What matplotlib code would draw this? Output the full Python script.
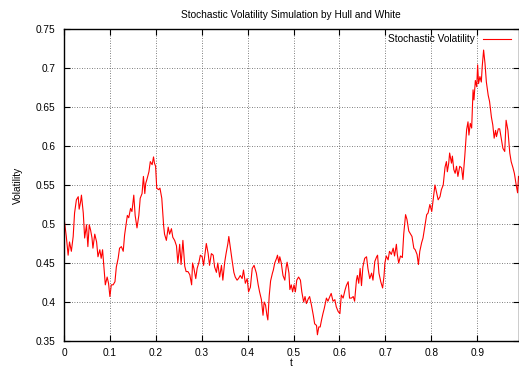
import numpy as np
import matplotlib.pyplot as plt

# values (t, volatility)
t = [0.000, 0.005, 0.009, 0.012, 0.016, 0.020, 0.023, 0.027, 0.031, 0.033,
     0.036, 0.038, 0.042, 0.045, 0.049, 0.052, 0.055, 0.058, 0.061, 0.063,
     0.067, 0.071, 0.074, 0.078, 0.081, 0.084, 0.087, 0.090, 0.094, 0.097,
     0.100, 0.103, 0.107, 0.111, 0.114, 0.118, 0.121, 0.125, 0.129,
     0.132, 0.138, 0.141, 0.145, 0.148, 0.152, 0.155, 0.159, 0.163, 0.166,
     0.170, 0.173, 0.176, 0.178, 0.181, 0.185, 0.188, 0.192, 0.195, 0.197,
     0.1995, 0.202, 0.206, 0.209, 0.213, 0.217, 0.219, 0.223, 0.227, 0.230,
     0.234, 0.237, 0.241, 0.245, 0.248, 0.252, 0.255, 0.259, 0.263, 0.266,
     0.270,
     0.274, 0.278, 0.280, 0.283, 0.287, 0.290, 0.294, 0.297, 0.301, 0.304,
     0.306, 0.310, 0.314, 0.317, 0.321, 0.325, 0.328, 0.332, 0.335, 0.339,
     0.343, 0.346, 0.350, 0.353, 0.357, 0.359, 0.362, 0.366, 0.370, 0.373,
     0.377, 0.380, 0.384, 0.388, 0.391, 0.395, 0.399, 0.402, 0.406, 0.410,
     0.414,
     0.419, 0.423, 0.426, 0.430, 0.4335, 0.436, 0.439, 0.442, 0.444, 0.447,
     0.450, 0.454, 0.456, 0.459, 0.463, 0.465, 0.468, 0.470, 0.473, 0.477,
     0.481, 0.484, 0.486, 0.490, 0.492, 0.495, 0.498, 0.501, 0.504, 0.507,
     0.511, 0.515, 0.518, 0.522, 0.525, 0.528, 0.532, 0.535, 0.539, 0.543,
     0.546, 0.550, 0.552, 0.555, 0.558, 0.561, 0.564, 0.567,
     0.5716, 0.575, 0.579, 0.582, 0.586, 0.590, 0.593, 0.597, 0.601, 0.604,
     0.608, 0.612, 0.615, 0.619, 0.622, 0.626, 0.630, 0.633, 0.637, 0.639,
     0.642, 0.645, 0.648, 0.651, 0.655, 0.659, 0.662, 0.666, 0.670, 0.673,
     0.677, 0.681, 0.683, 0.686, 0.690, 0.694, 0.697,
     0.699, 0.702, 0.706, 0.709, 0.713, 0.717, 0.720, 0.724, 0.726, 0.729,
     0.733, 0.737, 0.740, 0.742, 0.744, 0.747, 0.751, 0.755, 0.758, 0.762,
     0.765, 0.769, 0.772, 0.775, 0.779, 0.782, 0.786, 0.790, 0.793, 0.797,
     0.801, 0.804, 0.808, 0.812, 0.815, 0.819, 0.822, 0.826, 0.830, 0.833,
     0.835, 0.838,
     0.840, 0.844, 0.846, 0.849, 0.852, 0.855, 0.858, 0.862, 0.866, 0.869,
     0.873, 0.877, 0.880, 0.882, 0.885, 0.888, 0.891, 0.893, 0.896, 0.899,
     0.901, 0.903, 0.906, 0.909, 0.911, 0.914, 0.917, 0.920, 0.924, 0.927,
     0.931, 0.934, 0.937, 0.940, 0.942, 0.946, 0.949, 0.953, 0.956, 0.960,
     0.963, 0.967, 0.971, 0.974, 0.978, 0.981, 0.985, 0.988, 0.990]

vol = [0.508, 0.484, 0.460, 0.477, 0.465, 0.484, 0.514, 0.531, 0.535, 0.519,
       0.528, 0.537, 0.514, 0.482, 0.499, 0.471, 0.499, 0.492, 0.482, 0.469,
       0.487, 0.477, 0.458, 0.467, 0.456, 0.467, 0.445, 0.422, 0.432, 0.424,
       0.407, 0.422, 0.422, 0.426, 0.445, 0.456, 0.469, 0.471, 0.465,
       0.486, 0.511, 0.508, 0.520, 0.516, 0.537, 0.511, 0.495, 0.511, 0.533,
       0.539, 0.561, 0.539, 0.552, 0.558, 0.567, 0.580, 0.576, 0.586, 0.578,
       0.574, 0.546, 0.544, 0.546, 0.533, 0.498, 0.487, 0.479, 0.496, 0.487,
       0.494, 0.483, 0.479, 0.472, 0.450, 0.474, 0.448, 0.479, 0.446, 0.439,
       0.439,
       0.435, 0.422, 0.450, 0.443, 0.430, 0.443, 0.451, 0.460, 0.458, 0.447,
       0.456, 0.475, 0.462, 0.447, 0.462, 0.460, 0.445, 0.438, 0.450, 0.432,
       0.447, 0.428, 0.451, 0.462, 0.475, 0.484, 0.471, 0.454, 0.438, 0.432,
       0.428, 0.430, 0.434, 0.430, 0.441, 0.424, 0.430, 0.413, 0.419, 0.443,
       0.447,
       0.437, 0.422, 0.413, 0.403, 0.383, 0.400, 0.396, 0.383, 0.377, 0.408,
       0.427, 0.437, 0.441, 0.450, 0.456, 0.460, 0.450, 0.458, 0.451, 0.434,
       0.428, 0.445, 0.451, 0.437, 0.416, 0.422, 0.413, 0.422, 0.413, 0.428,
       0.432, 0.428, 0.413, 0.400, 0.407, 0.398, 0.404, 0.407, 0.396, 0.383,
       0.372, 0.370, 0.358, 0.368, 0.368, 0.377, 0.385, 0.392,
       0.405, 0.401, 0.407, 0.411, 0.401, 0.403, 0.394, 0.388, 0.385, 0.409,
       0.405, 0.415, 0.421, 0.426, 0.405, 0.405, 0.407, 0.401, 0.428, 0.434,
       0.424, 0.443, 0.421, 0.445, 0.456, 0.458, 0.443, 0.430, 0.437, 0.428,
       0.452, 0.458, 0.460, 0.437, 0.426, 0.418, 0.433,
       0.450, 0.459, 0.454, 0.465, 0.461, 0.469, 0.459, 0.474, 0.461, 0.450,
       0.459, 0.457, 0.487, 0.500, 0.512, 0.506, 0.491, 0.487, 0.484, 0.469,
       0.467, 0.461, 0.448, 0.465, 0.476, 0.482, 0.497, 0.512, 0.514, 0.525,
       0.516, 0.531, 0.550, 0.539, 0.531, 0.535, 0.544, 0.550, 0.573, 0.580,
       0.567, 0.578,
       0.591, 0.578, 0.587, 0.570, 0.565, 0.574, 0.561, 0.574, 0.572, 0.557,
       0.587, 0.621, 0.631, 0.614, 0.629, 0.623, 0.672, 0.659, 0.684, 0.676,
       0.704, 0.680, 0.689, 0.682, 0.702, 0.723, 0.706, 0.682, 0.665, 0.657,
       0.637, 0.627, 0.610, 0.620, 0.612, 0.622, 0.622, 0.608, 0.597, 0.593,
       0.633, 0.620, 0.591, 0.580, 0.572, 0.565, 0.550, 0.540, 0.561]

xticks = [0, 0.1, 0.2, 0.3, 0.4, 0.5, 0.6, 0.7, 0.8, 0.9]
xlabels = ["0", "0.1", "0.2", "0.3", "0.4", "0.5", "0.6", "0.7", "0.8", "0.9"]
yticks = [0.35, 0.4, 0.45, 0.5, 0.55, 0.6, 0.65, 0.7, 0.75]
ylabels = ["0.35", "0.4", "0.45", "0.5", "0.55", "0.6", "0.65", "0.7", "0.75"]

plt.rcParams["font.family"] = ["Liberation Sans", "DejaVu Sans"]
plt.rcParams["font.size"] = 7.3

fig = plt.figure(figsize=(5.19, 3.70), dpi=100)
ax = fig.add_axes([64 / 519, 1 - 341 / 370, 454.5 / 519, 312 / 370])

ax.plot(t, vol, color="#ff0000", linewidth=0.8, label="Stochastic Volatility")

ax.set_xlim(0, 0.99)
ax.set_ylim(0.35, 0.75)
ax.set_xticks(xticks)
ax.set_xticklabels(xlabels)
ax.set_yticks(yticks)
ax.set_yticklabels(ylabels)
ax.tick_params(direction="in", top=True, right=True, length=4, width=0.8, pad=6)
ax.tick_params(axis="x", pad=5)
ax.grid(True, linestyle=(0, (1, 2)), color="#555555", linewidth=0.6)
for s in ax.spines.values():
    s.set_linewidth(1.0)

ax.set_title("Stochastic Volatility Simulation by Hull and White",
             fontsize=7.3, pad=8)
ax.set_xlabel("t", labelpad=0)
ax.set_ylabel("Volatility", labelpad=9)

leg = ax.legend(loc="upper right", frameon=False, handlelength=2.8,
                borderaxespad=0.1, handletextpad=0.8, markerfirst=False,
                bbox_to_anchor=(0.995, 1.0))

fig.savefig("out.png", dpi=100)
